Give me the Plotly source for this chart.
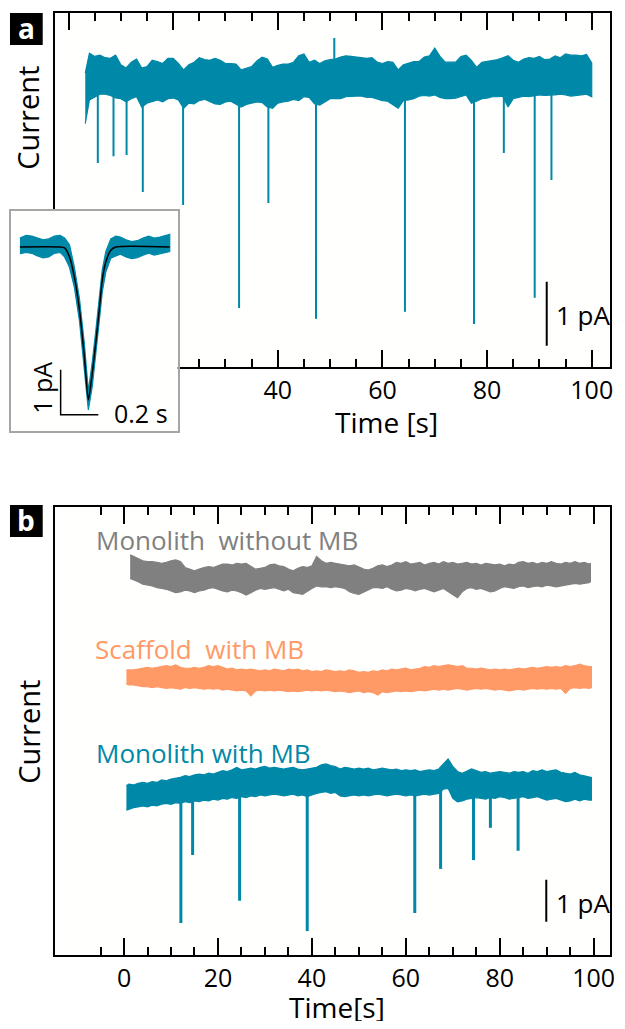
import plotly.graph_objects as go

# The page body has an 8 px margin, so the figure sits at (8, 8) in the window.
OFF = 8
FW, FH = 617, 1013
RIGHT = 615  # visible right border of both panels (window px)
FONT = "Open Sans"
TEAL = "#0088a8"
GRAY = "#808080"
ORANGE = "#ff9966"

# ---------------- Panel a: long trace (time in s, current in pA) ----------------
a_time = [3.2] + list(range(4, 101))
a_top = [0.03, 0.34, 0.29, 0.31, 0.27, 0.26, 0.31, 0.16, 0.11, 0.20, 0.25,
         0.11, 0.13, 0.23, 0.21, 0.18, 0.26, 0.26, 0.18, 0.08, 0.16,
         0.20, 0.27, 0.24, 0.23, 0.26, 0.23, 0.18, 0.18, 0.17, 0.08,
         0.11, 0.13, 0.22, 0.28, 0.25, 0.12, 0.15, 0.17, 0.17, 0.20,
         0.30, 0.33, 0.20, 0.23, 0.18, 0.22, 0.24, 0.25, 0.28, 0.30,
         0.29, 0.28, 0.28, 0.26, 0.27, 0.20, 0.18, 0.21, 0.20, 0.08,
         0.16, 0.18, 0.21, 0.21, 0.28, 0.30, 0.42, 0.29, 0.20, 0.20,
         0.20, 0.29, 0.31, 0.23, 0.12, 0.20, 0.21, 0.22, 0.24, 0.27,
         0.30, 0.23, 0.20, 0.25, 0.27, 0.26, 0.29, 0.24, 0.25, 0.30,
         0.27, 0.33, 0.31, 0.31, 0.30, 0.32, 0.19]
a_bot = [-0.76, -0.39, -0.35, -0.30, -0.30, -0.32, -0.36, -0.37, -0.42, -0.37, -0.34,
         -0.50, -0.44, -0.42, -0.39, -0.42, -0.37, -0.36, -0.39, -0.52, -0.44,
         -0.45, -0.40, -0.38, -0.42, -0.45, -0.46, -0.42, -0.41, -0.45, -0.50,
         -0.46, -0.44, -0.42, -0.43, -0.50, -0.52, -0.44, -0.42, -0.41, -0.38,
         -0.40, -0.34, -0.35, -0.45, -0.47, -0.42, -0.37, -0.37, -0.37, -0.34,
         -0.34, -0.33, -0.33, -0.35, -0.35, -0.38, -0.40, -0.41, -0.47, -0.52,
         -0.40, -0.39, -0.37, -0.33, -0.32, -0.33, -0.31, -0.35, -0.37, -0.37,
         -0.36, -0.34, -0.31, -0.44, -0.41, -0.37, -0.36, -0.34, -0.34, -0.33,
         -0.50, -0.37, -0.35, -0.33, -0.34, -0.33, -0.31, -0.32, -0.32, -0.31,
         -0.30, -0.31, -0.33, -0.32, -0.31, -0.30, -0.34]
a_event_time = [5.6, 8.6, 11.1, 14.2, 21.9, 32.6, 38.2, 47.3, 50.8, 64.3, 77.5, 83.2, 89.1, 92.3]
a_event_peak = [-1.375, -1.27, -1.25, -1.83, -2.03, -3.64, -2.0, -3.81, 0.58, -3.70, -3.89, -1.22, -3.48, -1.64]

# ---------------- Inset: single event (time in s, current in pA) ----------------
in_time = [-0.363, -0.33, -0.30, -0.27, -0.24, -0.21, -0.18, -0.15, -0.126, -0.10, -0.074,
           -0.047, -0.021, 0.0, 0.021, 0.041, 0.058, 0.074, 0.093, 0.119, 0.146, 0.17,
           0.20, 0.23, 0.26, 0.29, 0.32, 0.35, 0.38, 0.41, 0.432]
in_top = [0.20, 0.26, 0.24, 0.20, 0.16, 0.18, 0.24, 0.26, 0.20, 0.05, -0.45,
          -1.15, -2.15, -3.20, -2.55, -1.80, -1.15, -0.50, -0.10, 0.18, 0.24, 0.22,
          0.16, 0.12, 0.14, 0.20, 0.24, 0.20, 0.22, 0.26, 0.28]
in_bot = [-0.15, -0.12, -0.14, -0.20, -0.24, -0.22, -0.14, -0.12, -0.22, -0.45, -0.90,
          -1.65, -2.75, -3.62, -3.10, -2.35, -1.65, -1.00, -0.55, -0.25, -0.20, -0.16,
          -0.22, -0.26, -0.24, -0.18, -0.14, -0.18, -0.16, -0.12, -0.10]
fit_time = [-0.363, -0.153, -0.126, -0.10, -0.074, -0.047, -0.021, 0.0, 0.021, 0.041,
            0.058, 0.074, 0.093, 0.119, 0.146, 0.432]
fit_curr = [0.0, 0.0, -0.02, -0.22, -0.67, -1.40, -2.44, -3.40, -2.80, -2.07,
            -1.40, -0.73, -0.33, -0.07, 0.0, 0.0]

# ---------------- Panel b: three traces ----------------
gray_time = [1.3] + list(range(2, 100)) + [99.3]
gray_top = [5.60, 5.56, 5.50, 5.46, 5.44, 5.44, 5.42, 5.40, 5.42, 5.46,
            5.48, 5.44, 5.30, 5.26, 5.22, 5.26, 5.30, 5.32, 5.30, 5.34,
            5.38, 5.38, 5.36, 5.40, 5.38, 5.40, 5.34, 5.26, 5.28, 5.30,
            5.36, 5.38, 5.34, 5.32, 5.26, 5.22, 5.28, 5.32, 5.30, 5.34,
            5.56, 5.46, 5.40, 5.42, 5.40, 5.38, 5.36, 5.34, 5.36, 5.30,
            5.26, 5.24, 5.28, 5.34, 5.36, 5.32, 5.36, 5.42, 5.40, 5.44,
            5.38, 5.40, 5.42, 5.36, 5.40, 5.42, 5.38, 5.44, 5.40, 5.42,
            5.38, 5.40, 5.42, 5.38, 5.40, 5.36, 5.40, 5.38, 5.36, 5.38,
            5.34, 5.38, 5.36, 5.42, 5.44, 5.40, 5.42, 5.38, 5.42, 5.40,
            5.44, 5.40, 5.38, 5.42, 5.40, 5.44, 5.40, 5.42, 5.38, 5.40]
gray_bot = [5.04, 5.00, 4.96, 4.90, 4.88, 4.86, 4.82, 4.80, 4.78, 4.74,
            4.70, 4.72, 4.76, 4.74, 4.70, 4.74, 4.76, 4.80, 4.82, 4.78,
            4.74, 4.72, 4.76, 4.74, 4.70, 4.64, 4.70, 4.76, 4.80, 4.78,
            4.80, 4.82, 4.78, 4.74, 4.78, 4.70, 4.68, 4.66, 4.72, 4.80,
            4.86, 4.84, 4.84, 4.82, 4.84, 4.82, 4.80, 4.72, 4.68, 4.66,
            4.70, 4.76, 4.82, 4.82, 4.80, 4.84, 4.78, 4.74, 4.76, 4.80,
            4.78, 4.74, 4.78, 4.80, 4.76, 4.72, 4.76, 4.80, 4.74, 4.66,
            4.58, 4.72, 4.80, 4.82, 4.78, 4.80, 4.76, 4.72, 4.74, 4.80,
            4.84, 4.82, 4.80, 4.84, 4.86, 4.82, 4.84, 4.86, 4.84, 4.88,
            4.86, 4.84, 4.86, 4.88, 4.90, 4.92, 4.90, 4.92, 4.94, 4.96]

orange_time = [0.5] + list(range(1, 100)) + [99.5]
orange_top = [2.86,
              2.86, 2.86, 2.88, 2.90, 2.92, 2.90, 2.92, 2.94, 2.96, 2.94,
              2.98, 2.92, 2.90, 2.90, 2.92, 2.90, 2.92, 2.96, 2.94, 2.96,
              2.92, 2.88, 2.90, 2.86, 2.88, 2.86, 2.88, 2.86, 2.84, 2.86,
              2.84, 2.88, 2.86, 2.84, 2.88, 2.86, 2.88, 2.84, 2.86, 2.82,
              2.84, 2.82, 2.86, 2.84, 2.82, 2.84, 2.82, 2.86, 2.84, 2.80,
              2.82, 2.80, 2.84, 2.82, 2.86, 2.84, 2.88, 2.86, 2.88, 2.90,
              2.86, 2.88, 2.90, 2.94, 2.92, 2.96, 2.94, 2.96, 2.98, 2.96,
              2.94, 2.96, 2.90, 2.90, 2.88, 2.90, 2.88, 2.86, 2.88, 2.86,
              2.88, 2.86, 2.88, 2.90, 2.88, 2.90, 2.92, 2.90, 2.92, 2.94,
              2.92, 2.94, 2.92, 2.96, 2.94, 2.96, 3.00, 2.96, 2.94,
              2.94]
orange_bot = [2.52,
              2.50, 2.50, 2.48, 2.46, 2.46, 2.44, 2.46, 2.44, 2.42, 2.44,
              2.42, 2.40, 2.44, 2.42, 2.44, 2.42, 2.40, 2.42, 2.40, 2.42,
              2.38, 2.40, 2.38, 2.36, 2.38, 2.36, 2.24, 2.36, 2.38, 2.36,
              2.38, 2.36, 2.38, 2.36, 2.34, 2.36, 2.34, 2.36, 2.38, 2.36,
              2.38, 2.36, 2.38, 2.36, 2.34, 2.36, 2.34, 2.32, 2.34, 2.36,
              2.32, 2.34, 2.32, 2.26, 2.34, 2.32, 2.34, 2.36, 2.34, 2.36,
              2.34, 2.36, 2.38, 2.36, 2.38, 2.40, 2.38, 2.40, 2.38, 2.40,
              2.42, 2.40, 2.38, 2.40, 2.42, 2.40, 2.42, 2.40, 2.38, 2.40,
              2.38, 2.36, 2.38, 2.40, 2.38, 2.40, 2.42, 2.40, 2.42, 2.40,
              2.42, 2.40, 2.42, 2.30, 2.42, 2.44, 2.42, 2.44, 2.42,
              2.44]

teal_time = [0.5] + list(range(1, 100)) + [99.5]
teal_top = [0.10,
            0.14, 0.12, 0.16, 0.18, 0.16, 0.20, 0.18, 0.24, 0.22, 0.26,
            0.28, 0.30, 0.34, 0.32, 0.36, 0.38, 0.36, 0.40, 0.38, 0.42,
            0.46, 0.44, 0.48, 0.54, 0.48, 0.50, 0.52, 0.50, 0.54, 0.56,
            0.52, 0.54, 0.52, 0.50, 0.52, 0.54, 0.50, 0.48, 0.50, 0.52,
            0.54, 0.60, 0.62, 0.58, 0.56, 0.50, 0.54, 0.52, 0.50, 0.52,
            0.50, 0.52, 0.48, 0.50, 0.52, 0.50, 0.48, 0.50, 0.46, 0.48,
            0.46, 0.48, 0.44, 0.46, 0.48, 0.46, 0.50, 0.62, 0.74, 0.56,
            0.44, 0.40, 0.46, 0.50, 0.46, 0.42, 0.44, 0.40, 0.42, 0.44,
            0.42, 0.40, 0.44, 0.42, 0.44, 0.40, 0.46, 0.44, 0.48, 0.44,
            0.46, 0.48, 0.42, 0.40, 0.38, 0.42, 0.36, 0.34, 0.32,
            0.30]
teal_bot = [-0.48,
            -0.46, -0.42, -0.40, -0.38, -0.40, -0.36, -0.38, -0.34, -0.32, -0.34,
            -0.30, -0.32, -0.28, -0.30, -0.26, -0.28, -0.24, -0.26, -0.22, -0.24,
            -0.20, -0.22, -0.18, -0.20, -0.16, -0.18, -0.14, -0.16, -0.12, -0.14,
            -0.12, -0.10, -0.12, -0.14, -0.12, -0.10, -0.14, -0.12, -0.16, -0.12,
            -0.08, -0.06, -0.04, -0.08, -0.06, -0.14, -0.16, -0.14, -0.12, -0.14,
            -0.12, -0.14, -0.12, -0.10, -0.12, -0.14, -0.12, -0.10, -0.12, -0.14,
            -0.12, -0.14, -0.12, -0.10, -0.12, -0.10, -0.08, 0.02, 0.04, -0.20,
            -0.28, -0.26, -0.22, -0.20, -0.18, -0.20, -0.22, -0.18, -0.20, -0.16,
            -0.18, -0.22, -0.20, -0.18, -0.16, -0.20, -0.18, -0.16, -0.20, -0.24,
            -0.22, -0.20, -0.24, -0.28, -0.26, -0.22, -0.26, -0.22, -0.24,
            -0.24]
b_event_time = [12.1, 14.6, 24.6, 39.0, 61.9, 67.4, 74.4, 78.0, 83.9]
b_event_peak = [-3.17, -1.55, -2.64, -3.36, -2.93, -1.88, -1.67, -0.90, -1.45]

a_ticks = [0, 20, 40, 60, 80, 100]
a_ticktext = ["", "", "40", "60", "80", "100"]
b_ticks = [0, 20, 40, 60, 80, 100]
b_ticktext = ["0", "20", "40", "60", "80", "100"]
b_minor = [-5, 5, 10, 15, 25, 30, 35, 45, 50, 55, 65, 70, 75, 85, 90, 95]


def px(x):
    # window pixel -> paper fraction
    return (x - OFF) / FW


def py(y):
    return 1 - (y - OFF) / FH


def band(t, top, bot, color, xa, ya):
    return go.Scatter(x=list(t) + list(t)[::-1], y=list(top) + list(bot)[::-1],
                      mode="lines", fill="toself", fillcolor=color,
                      line=dict(color=color, width=1.2), xaxis=xa, yaxis=ya,
                      hoverinfo="skip", showlegend=False)


def events(times, peaks, base, color, width, xa, ya):
    xs, ys = [], []
    for t, p in zip(times, peaks):
        xs += [t, t, None]
        ys += [base, p, None]
    return go.Scatter(x=xs, y=ys, mode="lines", line=dict(color=color, width=width),
                      xaxis=xa, yaxis=ya, hoverinfo="skip", showlegend=False)


fig = go.Figure()
fig.add_trace(events(a_event_time, a_event_peak, -0.05, TEAL, 2, "x", "y"))
fig.add_trace(band(a_time, a_top, a_bot, TEAL, "x", "y"))
fig.add_trace(band(gray_time, gray_top, gray_bot, GRAY, "x2", "y2"))
fig.add_trace(band(orange_time, orange_top, orange_bot, ORANGE, "x2", "y2"))
fig.add_trace(events(b_event_time, b_event_peak, 0.15, TEAL, 3, "x2", "y2"))
fig.add_trace(band(teal_time, teal_top, teal_bot, TEAL, "x2", "y2"))
fig.add_trace(band(in_time, in_top, in_bot, TEAL, "x3", "y3"))
fig.add_trace(go.Scatter(x=fit_time, y=fit_curr, mode="lines",
                         line=dict(color="black", width=1.5, shape="spline", smoothing=0.6),
                         xaxis="x3", yaxis="y3", hoverinfo="skip", showlegend=False))

tickfont = dict(family=FONT, size=25, color="black")


def xax(dom, rng, tv, tt, minor, anchor):
    return dict(domain=dom, range=rng, showline=True, linecolor="black", linewidth=2,
                mirror="ticks", ticks="inside", ticklen=17, tickwidth=2, tickcolor="black",
                tickmode="array", tickvals=tv, ticktext=tt, tickfont=tickfont,
                showgrid=False, zeroline=False, minor=minor, anchor=anchor)


def yax(dom, rng, anchor):
    return dict(domain=dom, range=rng, showline=True, linecolor="black", linewidth=2,
                mirror=True, ticks="", showticklabels=False, showgrid=False, zeroline=False,
                anchor=anchor)


# x scales: panel a 0 s at x=69 px, 5.275 px/s; panel b 0 s at x=125 px, 4.735 px/s
a_range = [(55 - 69) / 5.275, (RIGHT - 69) / 5.275]
b_range = [(55 - 125) / 4.735, (RIGHT - 125) / 4.735]

fig.update_layout(
    width=FW, height=FH, margin=dict(l=0, r=0, t=0, b=0),
    paper_bgcolor="white", plot_bgcolor="rgb(255,255,254)",
    font=dict(family=FONT, color="black"), showlegend=False,
    xaxis=xax([px(55), px(RIGHT)], a_range, a_ticks, a_ticktext,
              dict(tickmode="linear", tick0=0, dtick=5, ticks="inside", ticklen=8,
                   tickwidth=2, tickcolor="black", showgrid=False), "y"),
    yaxis=yax([py(367), py(13)], [-4.5625, 0.96875], "x"),
    xaxis2=xax([px(55), px(RIGHT)], b_range, b_ticks, b_ticktext,
               dict(tickmode="array", tickvals=b_minor, ticks="inside", ticklen=8,
                    tickwidth=2, tickcolor="black", showgrid=False), "y2"),
    yaxis2=yax([py(955), py(507)], [-3.93, 6.74], "x2"),
    xaxis3=dict(domain=[px(11), px(179)], range=[-0.4105, 0.4737], showline=True,
                linecolor="#a6a6a6", linewidth=2, mirror=True, ticks="",
                showticklabels=False, showgrid=False, zeroline=False, anchor="y3"),
    yaxis3=dict(domain=[py(431), py(211)], range=[-4.09, 0.8], showline=True,
                linecolor="#a6a6a6", linewidth=2, mirror=True, ticks="",
                showticklabels=False, showgrid=False, zeroline=False, anchor="x3"),
)

shapes = [
    dict(type="rect", xref="paper", yref="paper", x0=px(10), x1=px(43), y0=py(45), y1=py(13),
         fillcolor="black", line=dict(width=0)),
    dict(type="rect", xref="paper", yref="paper", x0=px(10), x1=px(43), y0=py(537), y1=py(505),
         fillcolor="black", line=dict(width=0)),
    dict(type="line", xref="x", yref="y", x0=91.4, x1=91.4, y0=-3.23, y1=-4.23,
         line=dict(color="black", width=2)),
    dict(type="line", xref="x2", yref="y2", x0=89.9, x1=89.9, y0=-2.14, y1=-3.14,
         line=dict(color="black", width=2)),
    dict(type="path", xref="x3", yref="y3", path="M -0.147,-2.73 L -0.147,-3.73 L 0.053,-3.73",
         line=dict(color="black", width=1.5)),
]
fig.update_layout(shapes=shapes)

ann = [
    dict(text="<b>a</b>", x=px(26.5), y=py(28), font=dict(size=28, color="white")),
    dict(text="<b>b</b>", x=px(26.5), y=py(520), font=dict(size=28, color="white")),
    dict(text="Current", x=px(28), y=py(118), textangle=-90, font=dict(size=29)),
    dict(text="Current", x=px(28), y=py(732), textangle=-90, font=dict(size=29)),
    dict(text="Time [s]", x=px(390), y=py(422), font=dict(size=28)),
    dict(text="Time[s]", x=px(340), y=py(1007), font=dict(size=28)),
    dict(text="1 pA", x=px(558), y=py(315), xanchor="left", font=dict(size=26)),
    dict(text="1 pA", x=px(558), y=py(903), xanchor="left", font=dict(size=26)),
    dict(text="0.2 s", x=px(142), y=py(413), font=dict(size=25)),
    dict(text="1 pA", x=px(42), y=py(388), textangle=-90, font=dict(size=25)),
    dict(text="Monolith\u00a0 without MB", x=px(95), y=py(540), xanchor="left",
         font=dict(size=26, color=GRAY)),
    dict(text="Scaffold\u00a0 with MB", x=px(94), y=py(649), xanchor="left",
         font=dict(size=26, color=ORANGE)),
    dict(text="Monolith with MB", x=px(95), y=py(753), xanchor="left",
         font=dict(size=26, color=TEAL)),
]
for a in ann:
    a.setdefault("xanchor", "center")
    a.update(xref="paper", yref="paper", yanchor="middle", showarrow=False)
    a["font"].setdefault("color", "black")
    a["font"]["family"] = FONT
fig.update_layout(annotations=ann)

fig.write_html("out.html")
